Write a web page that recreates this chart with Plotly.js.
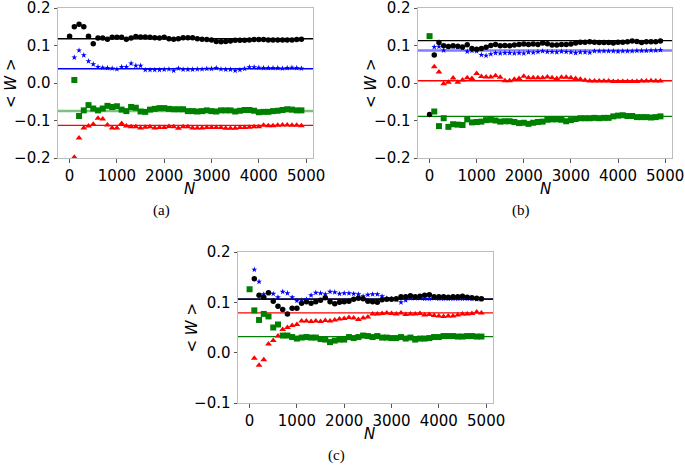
<!DOCTYPE html>
<html>
<head>
<meta charset="utf-8">
<script src="https://cdn.plot.ly/plotly-3.0.1.min.js"></script>
<style>html,body{margin:0;padding:0;background:#fff;}#chart{width:685px;height:466px;}</style>
</head>
<body>
<div id="chart"></div>
<script>
// N values (0..4900 step 100)
const N = [];
for (let i = 0; i < 50; i++) N.push(i * 100);

// ---- Panel (a) ----
const a_black = [0.125,0.150,0.157,0.150,0.125,0.105,0.120,0.120,0.117,0.122,0.122,0.122,0.117,0.120,0.124,0.123,0.123,0.122,0.121,0.120,0.122,0.118,0.117,0.118,0.121,0.121,0.121,0.118,0.117,0.116,0.115,0.111,0.110,0.111,0.112,0.114,0.114,0.114,0.115,0.116,0.116,0.116,0.115,0.115,0.115,0.115,0.115,0.115,0.116,0.117];
const a_blue = [null,0.068,0.087,0.074,0.058,0.050,0.043,0.041,0.040,0.039,0.037,0.043,0.043,0.052,0.046,0.046,0.035,0.035,0.035,0.035,0.036,0.037,0.033,0.039,0.036,0.036,0.036,0.037,0.037,0.038,0.038,0.040,0.037,0.036,0.036,0.033,0.035,0.038,0.042,0.042,0.041,0.040,0.040,0.040,0.040,0.039,0.040,0.041,0.040,0.039];
const a_red = [null,-0.198,-0.147,-0.120,-0.115,-0.110,-0.094,-0.096,-0.112,-0.120,-0.120,-0.108,-0.115,-0.117,-0.117,-0.120,-0.118,-0.117,-0.120,-0.119,-0.119,-0.116,-0.117,-0.121,-0.117,-0.117,-0.120,-0.120,-0.120,-0.119,-0.119,-0.119,-0.119,-0.121,-0.121,-0.121,-0.119,-0.119,-0.118,-0.117,-0.117,-0.113,-0.114,-0.114,-0.113,-0.112,-0.112,-0.113,-0.113,-0.114];
const a_green = [null,0.008,-0.088,-0.073,-0.059,-0.068,-0.073,-0.068,-0.061,-0.064,-0.062,-0.071,-0.075,-0.064,-0.066,-0.076,-0.077,-0.071,-0.069,-0.067,-0.067,-0.069,-0.070,-0.070,-0.070,-0.075,-0.075,-0.076,-0.075,-0.073,-0.075,-0.076,-0.073,-0.073,-0.073,-0.076,-0.074,-0.072,-0.072,-0.074,-0.078,-0.077,-0.077,-0.075,-0.074,-0.072,-0.070,-0.071,-0.073,-0.073];
const a_refs = {black: 0.118, blue: 0.038, green: -0.075, red: -0.113};

// ---- Panel (b) ----
const b_black = [-0.084,0.075,0.108,0.099,0.097,0.099,0.098,0.096,0.102,0.092,0.090,0.092,0.095,0.100,0.103,0.099,0.100,0.099,0.101,0.103,0.104,0.103,0.104,0.103,0.107,0.105,0.101,0.101,0.103,0.103,0.104,0.107,0.109,0.109,0.110,0.109,0.108,0.108,0.108,0.107,0.109,0.109,0.110,0.112,0.111,0.108,0.110,0.110,0.110,0.112];
const b_blue = [null,0.096,0.097,0.087,0.097,0.097,0.096,0.093,0.084,0.086,0.085,0.075,0.073,0.077,0.080,0.079,0.080,0.080,0.079,0.080,0.079,0.082,0.081,0.083,0.085,0.083,0.083,0.082,0.084,0.083,0.082,0.080,0.082,0.082,0.081,0.085,0.085,0.085,0.085,0.085,0.084,0.085,0.085,0.085,0.086,0.086,0.086,0.087,0.087,0.088];
const b_red = [null,0.043,0.029,-0.002,0.002,0.013,0.002,0.008,0.014,0.012,0.025,0.017,0.016,0.016,0.019,0.015,0.006,0.006,0.010,0.012,0.018,0.014,0.014,0.014,0.014,0.016,0.014,0.012,0.015,0.015,0.014,0.012,0.010,0.007,0.005,0.005,0.005,0.005,0.005,0.004,0.004,0.004,0.004,0.004,0.004,0.005,0.005,0.006,0.005,0.005];
const b_green = [0.125,-0.076,-0.115,-0.094,-0.117,-0.110,-0.111,-0.112,-0.097,-0.105,-0.104,-0.103,-0.099,-0.098,-0.100,-0.103,-0.102,-0.102,-0.104,-0.107,-0.106,-0.109,-0.106,-0.104,-0.103,-0.098,-0.097,-0.097,-0.098,-0.102,-0.099,-0.096,-0.094,-0.094,-0.094,-0.093,-0.094,-0.093,-0.093,-0.089,-0.087,-0.086,-0.088,-0.088,-0.091,-0.091,-0.091,-0.092,-0.091,-0.089];
const b_refs = {black: 0.113, blue: 0.087, green: -0.089, red: 0.006};

// ---- Panel (c) ----
const c_black = [null,0.147,0.114,0.110,0.119,0.102,0.092,0.086,0.077,0.088,0.088,0.098,0.101,0.098,0.101,0.104,0.109,0.101,0.097,0.100,0.101,0.102,0.106,0.108,0.107,0.102,0.101,0.100,0.105,0.106,0.106,0.107,0.111,0.111,0.113,0.111,0.112,0.114,0.115,0.111,0.111,0.111,0.110,0.111,0.111,0.112,0.110,0.109,0.108,0.107];
const c_blue = [null,0.165,0.141,0.116,0.118,0.117,0.110,0.121,0.118,0.110,0.103,0.104,0.106,0.114,0.119,0.118,0.116,0.121,0.120,0.117,0.118,0.118,0.117,0.116,0.112,0.115,0.116,0.116,0.112,0.108,0.107,0.105,0.100,0.104,0.108,0.108,0.108,0.107,0.107,0.108,0.107,0.107,0.107,0.107,0.107,0.107,0.107,0.107,0.106,0.106];
const c_red = [null,-0.011,-0.025,-0.014,0.017,0.024,0.033,0.046,0.050,0.054,0.056,0.063,0.063,0.062,0.063,0.062,0.064,0.063,0.065,0.067,0.068,0.070,0.069,0.066,0.069,0.071,0.077,0.077,0.078,0.079,0.078,0.077,0.079,0.076,0.077,0.077,0.078,0.075,0.076,0.074,0.073,0.072,0.073,0.073,0.075,0.077,0.077,0.078,0.081,0.079];
const c_green = [0.126,0.084,0.065,0.077,0.072,0.050,0.056,0.034,0.034,0.031,0.028,0.030,0.031,0.030,0.030,0.027,0.026,0.021,0.024,0.026,0.026,0.031,0.029,0.031,0.034,0.033,0.031,0.033,0.030,0.030,0.029,0.029,0.031,0.028,0.030,0.026,0.028,0.028,0.029,0.031,0.031,0.033,0.033,0.033,0.032,0.032,0.033,0.033,0.032,0.032];
const c_refs = {black: 0.107, blue: 0.106, green: 0.032, red: 0.079};

const xTickVals = [0, 1000, 2000, 3000, 4000, 5000];
const captions = ['(a)', '(b)', '(c)'];

const COL = {black: '#000000', blue: '#0000ff', red: '#ff0000', green: '#008000'};
const SYM = {black: 'circle', blue: 'star', red: 'triangle-up', green: 'square'};
const SIZE = {black: 5.5, blue: 4.5, red: 6, green: 6};

const panels = [
  {s: {blue: a_blue, black: a_black, red: a_red, green: a_green}, refs: a_refs, ax: ''},
  {s: {blue: b_blue, black: b_black, red: b_red, green: b_green}, refs: b_refs, ax: '2'},
  {s: {blue: c_blue, black: c_black, red: c_red, green: c_green}, refs: c_refs, ax: '3'}
];

const traces = [];
const shapes = [];
panels.forEach(p => {
  ['blue', 'black', 'red', 'green'].forEach(k => {
    traces.push({
      x: N, y: p.s[k], type: 'scatter', mode: 'markers',
      xaxis: 'x' + p.ax, yaxis: 'y' + p.ax, showlegend: false,
      cliponaxis: true,
      marker: {symbol: SYM[k], size: SIZE[k], color: COL[k], line: {width: 0}}
    });
  });
  ['black', 'blue', 'red', 'green'].forEach(k => {
    const wide = (k === 'green' && p.ax === '') || (k === 'blue' && p.ax === '2');
    let color = COL[k];
    if (wide) color = k === 'green' ? 'rgba(0,128,0,0.5)' : 'rgba(0,0,255,0.5)';
    if (k === 'blue' && p.ax === '3') color = '#00008b';
    shapes.push({
      type: 'line', xref: 'x' + p.ax + ' domain', yref: 'y' + p.ax,
      x0: 0, x1: 1, y0: p.refs[k], y1: p.refs[k], layer: 'below',
      line: {color: color, width: wide ? 2.5 : 1.3}
    });
  });
});

const fontTick = {family: 'DejaVu Sans, sans-serif', size: 15, color: '#000'};
function xax(domain, anchor) {
  return {domain: domain, anchor: anchor, range: [-245, 5145], tickvals: xTickVals,
    ticktext: xTickVals.map(String), ticks: 'outside', ticklen: 3.5, tickcolor: '#555',
    tickangle: 0, ticklabeloverflow: 'allow',
    showline: true, mirror: true, linecolor: '#bdbdbd', linewidth: 1,
    showgrid: false, zeroline: false, tickfont: fontTick};
}
function yax(domain, anchor, range, tv) {
  return {domain: domain, anchor: anchor, range: range, tickvals: tv, tickformat: '.1f',
    ticks: 'outside', ticklen: 3.5, tickcolor: '#555', ticklabeloverflow: 'allow',
    showline: true, mirror: true, linecolor: '#bdbdbd', linewidth: 1,
    showgrid: false, zeroline: false, tickfont: fontTick};
}
const W = 685, H = 466;
const px = v => v / W, py = v => 1 - v / H;

const layout = {
  width: W, height: H, margin: {l: 0, r: 0, t: 0, b: 0},
  paper_bgcolor: '#fff', plot_bgcolor: '#fff', showlegend: false,
  xaxis: xax([px(58), px(313)], 'y'),
  yaxis: yax([py(158), py(8)], 'x', [-0.2, 0.2], [-0.2, -0.1, 0, 0.1, 0.2]),
  xaxis2: xax([px(418), px(672)], 'y2'),
  yaxis2: yax([py(158), py(8)], 'x2', [-0.2, 0.2], [-0.2, -0.1, 0, 0.1, 0.2]),
  xaxis3: xax([px(238), px(493)], 'y3'),
  yaxis3: yax([py(403), py(252)], 'x3', [-0.1, 0.2], [-0.1, 0, 0.1, 0.2]),
  shapes: shapes,
  annotations: []
};

const axPos = [
  {xl: 58, xr: 313, yt: 8, yb: 158, cap: 161, capy: 211, nx: 4},
  {xl: 418, xr: 672, yt: 8, yb: 158, cap: 521, capy: 211, nx: 0},
  {xl: 238, xr: 493, yt: 252, yb: 403, cap: 336, capy: 455, nx: 4}
];
axPos.forEach((a, i) => {
  layout.annotations.push({
    xref: 'paper', yref: 'paper', x: px((a.xl + a.xr) / 2 + a.nx), y: py(a.yb + 31),
    text: '<i>N</i>', showarrow: false, font: {family: 'DejaVu Sans, sans-serif', size: 15, color: '#000'},
    xanchor: 'center', yanchor: 'middle'
  });
  layout.annotations.push({
    xref: 'paper', yref: 'paper', x: px(a.xl - 47), y: py((a.yt + a.yb) / 2),
    text: '&lt; <i>W</i> &gt;', showarrow: false, textangle: -90,
    font: {family: 'DejaVu Sans, sans-serif', size: 15, color: '#000'},
    xanchor: 'center', yanchor: 'middle'
  });
  layout.annotations.push({
    xref: 'paper', yref: 'paper', x: px(a.cap), y: py(a.capy),
    text: captions[i], showarrow: false,
    font: {family: 'Liberation Serif, Times New Roman, serif', size: 15, color: '#000'},
    xanchor: 'center', yanchor: 'middle'
  });
});

Plotly.newPlot('chart', traces, layout, {staticPlot: true});
</script>
</body>
</html>
